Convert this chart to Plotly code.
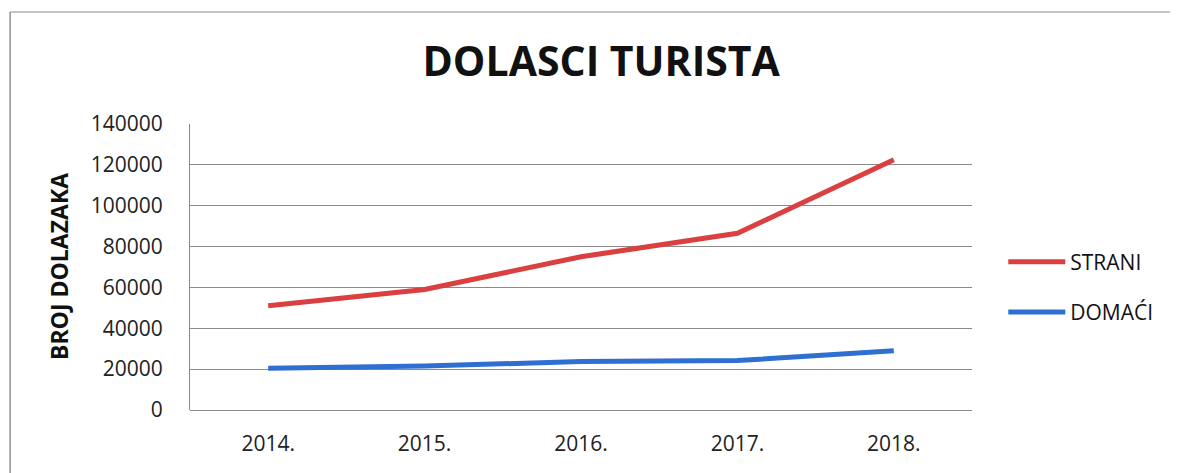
import plotly.graph_objects as go

years = ["2014.", "2015.", "2016.", "2017.", "2018."]
strani = [51000, 59000, 75000, 86500, 122500]
domaci = [20400, 21500, 23700, 24200, 29000]
y_ticks = [0, 20000, 40000, 60000, 80000, 100000, 120000, 140000]

font_family = "Open Sans, Lato, sans-serif"

fig = go.Figure()
fig.add_trace(go.Scatter(x=years, y=strani, mode="lines", name="STRANI",
                         legendgroup="a",
                         line=dict(color="#d9403f", width=5)))
fig.add_trace(go.Scatter(x=years, y=domaci, mode="lines", name="DOMAĆI",
                         legendgroup="b",
                         line=dict(color="#2f6fd1", width=5)))

fig.update_layout(
    width=1170, height=465,
    margin=dict(l=182, r=206, t=116, b=63),
    paper_bgcolor="white", plot_bgcolor="white",
    font=dict(family=font_family, color="#222", size=21),
    title=dict(text="<b>DOLASCI TURISTA</b>", x=0.507, xanchor="center",
               y=1 - 54 / 465, yanchor="middle",
               font=dict(size=41, color="#111", family=font_family)),
    legend=dict(x=1.04, y=0.43, xanchor="left", yanchor="middle",
                font=dict(size=21, color="#111"), itemwidth=57,
                traceorder="grouped", tracegroupgap=20,
                bgcolor="rgba(0,0,0,0)"),
    showlegend=True,
)
fig.update_xaxes(type="category", range=[-0.5, 4.5], showgrid=False,
                 showline=False, zeroline=False, ticks="",
                 tickfont=dict(size=21, color="#222"), ticklabelstandoff=19)
fig.update_yaxes(range=[0, 140000], tickvals=y_ticks,
                 ticktext=[str(v) for v in y_ticks],
                 showgrid=True, gridcolor="#8a8a8a", gridwidth=1,
                 zeroline=True, zerolinecolor="#8a8a8a", zerolinewidth=1,
                 showline=True, linecolor="#8a8a8a", linewidth=1,
                 ticks="", tickfont=dict(size=21, color="#222"),
                 ticklabelstandoff=22)

fig.add_annotation(text="<b>BROJ DOLAZAKA</b>", textangle=-90,
                   xref="paper", yref="paper", x=-0.1675, y=0.5,
                   xanchor="center", yanchor="middle", showarrow=False,
                   font=dict(size=23, color="#111", family=font_family))

# scanned frame edges
fig.add_shape(type="line", xref="paper", yref="paper",
              x0=-0.230, x1=1.27, y0=1.392, y1=1.392,
              line=dict(color="#b0b0b0", width=1.5))
fig.add_shape(type="line", xref="paper", yref="paper",
              x0=-0.230, x1=-0.230, y0=1.392, y1=-0.23,
              line=dict(color="#909090", width=1.5))

fig.write_html("out.html")
